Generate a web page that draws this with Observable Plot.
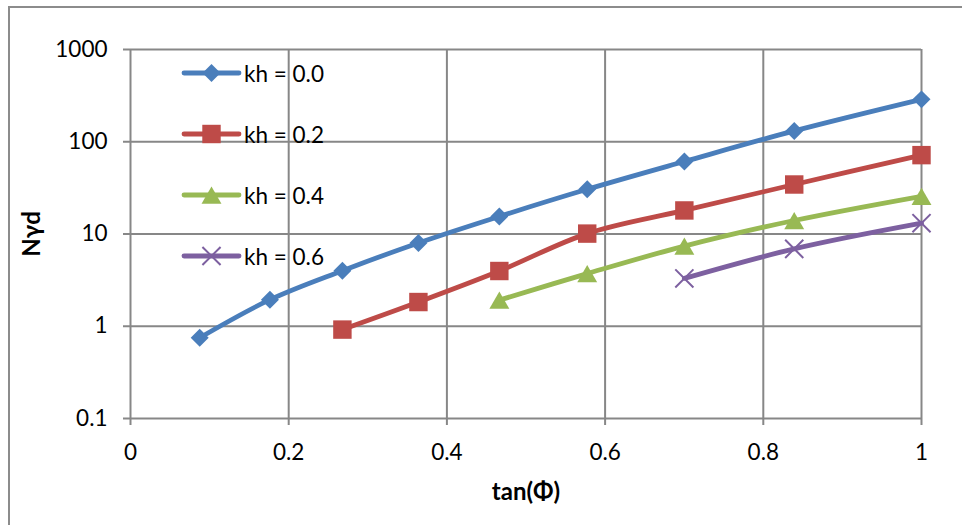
<!DOCTYPE html>
<html>
<head>
<meta charset="utf-8">
<script src="https://cdn.jsdelivr.net/npm/d3@7"></script>
<script src="https://cdn.jsdelivr.net/npm/@observablehq/plot@0.6"></script>
<style>
  html, body { margin: 0; padding: 0; background: #fff; }
  #wrap { position: relative; width: 962px; height: 525px; overflow: hidden; font-family: Lato, "Noto Sans", sans-serif; }
  #border { position: absolute; left: 8px; top: 6px; width: 1000px; height: 600px; border-left: 2px solid #8c8c8c; border-top: 2px solid #8c8c8c; box-sizing: border-box; }
  #chart { position: absolute; left: 0; top: 0; }
  #legend { position: absolute; left: 181px; top: 58px; }
  .item { display: flex; align-items: center; height: 30px; margin-bottom: 31px; font-size: 22.5px; color: #000; white-space: pre; }
  .item svg { display: block; margin-right: 1px; }
</style>
</head>
<body>
<div id="wrap">
  <div id="border"></div>
  <div id="chart"></div>
  <div id="legend"></div>
</div>
<script>
// tan(phi) for phi = 5..45 degrees
const tanPhi = [0.0875, 0.1763, 0.2679, 0.3640, 0.4663, 0.5774, 0.7002, 0.8391, 1.0];
const seriesNames = ["kh = 0.0", "kh = 0.2", "kh = 0.4", "kh = 0.6"];
const nyd_kh00 = [0.75, 1.94, 4.0, 8.0, 15.5, 30.5, 61, 131, 288];
const nyd_kh02 = [null, null, 0.92, 1.83, 3.97, 10.1, 18.0, 34.4, 71.6];
const nyd_kh04 = [null, null, null, null, 1.92, 3.72, 7.39, 14.0, 25.6];
const nyd_kh06 = [null, null, null, null, null, null, 3.3, 6.9, 13.1];
const xTicks = [0, 0.2, 0.4, 0.6, 0.8, 1];
const yTicks = [0.1, 1, 10, 100, 1000];
const xLabel = "tan(Φ)";
const yLabel = "Nγd";

const colors = ["#4a7ebb", "#be4b48", "#98b954", "#7d60a0"];
const symbols = ["diamond2", "square", "triangle", "times"];
const d3symbols = [d3.symbolDiamond2, d3.symbolSquare, d3.symbolTriangle, d3.symbolTimes];
const radii = [8.1, 10.4, 7.4, 8.3];
const allSeries = [nyd_kh00, nyd_kh02, nyd_kh04, nyd_kh06];

const rows = [];
allSeries.forEach((vals, i) => {
  vals.forEach((v, j) => {
    if (v != null) rows.push({x: tanPhi[j], y: v, series: seriesNames[i], idx: i});
  });
});

const gridStyle = {stroke: "#878787", strokeOpacity: 1, strokeWidth: 2};
const lineWidth = 4.8;
const tickFont = 22.5;
const titleFont = 24;

const marks = [
  Plot.gridX(xTicks, gridStyle),
  Plot.gridY(yTicks, gridStyle),
  Plot.axisX(xTicks, {tickSize: 7, tickPadding: 19, stroke: "#878787", strokeWidth: 2, fill: "#000", fontSize: tickFont, tickFormat: d => String(d), label: null}),
  Plot.axisY(yTicks, {tickSize: 7, tickPadding: 16, stroke: "#878787", strokeWidth: 2, fill: "#000", fontSize: tickFont, tickFormat: d => String(d), label: null}),
];
seriesNames.forEach((name, i) => {
  const data = rows.filter(r => r.idx === i);
  marks.push(Plot.line(data, {x: "x", y: "y", stroke: colors[i], strokeWidth: lineWidth, curve: "catmull-rom", strokeLinejoin: "round", strokeLinecap: "round"}));
});
seriesNames.forEach((name, i) => {
  const data = rows.filter(r => r.idx === i);
  const isStroke = symbols[i] === "times";
  marks.push(Plot.dot(data, {
    x: "x", y: "y", symbol: () => symbols[i], r: radii[i],
    fill: isStroke ? "none" : colors[i],
    stroke: isStroke ? colors[i] : "none",
    strokeWidth: isStroke ? 2 : 0,
    dy: symbols[i] === "triangle" ? 2.9 : 0
  }));
});
marks.push(Plot.text([yLabel], {frameAnchor: "left", dx: -98, rotate: -90, textAnchor: "middle", lineAnchor: "middle", fontWeight: "bold", fontSize: titleFont, fill: "#000"}));
marks.push(Plot.text([xLabel], {frameAnchor: "bottom", dy: 74, textAnchor: "middle", lineAnchor: "middle", fontWeight: "bold", fontSize: titleFont, fill: "#000"}));

const chart = Plot.plot({
  width: 962, height: 525,
  marginLeft: 130, marginRight: 41, marginTop: 49, marginBottom: 107,
  style: {fontFamily: "Lato, 'Noto Sans', sans-serif", fontSize: "22.5px", color: "#000", background: "transparent", overflow: "visible"},
  x: {domain: [0, 1]},
  y: {type: "log", domain: [0.1, 1000]},
  marks
});
document.getElementById("chart").appendChild(chart);

// Legend
const legend = d3.select("#legend");
seriesNames.forEach((name, i) => {
  const item = legend.append("div").attr("class", "item");
  const svg = item.append("svg").attr("width", 62).attr("height", 30);
  svg.append("line").attr("x1", 3).attr("x2", 58).attr("y1", 15).attr("y2", 15)
    .attr("stroke", colors[i]).attr("stroke-width", lineWidth).attr("stroke-linecap", "round");
  const sym = d3.symbol(d3symbols[i], Math.PI * radii[i] * radii[i]);
  const p = svg.append("path").attr("d", sym())
    .attr("transform", `translate(30.5,${15 + (symbols[i] === "triangle" ? 2.9 : 0)})`);
  if (symbols[i] === "times") p.attr("fill", "none").attr("stroke", colors[i]).attr("stroke-width", 2);
  else p.attr("fill", colors[i]);
  item.append("span").text(name);
});
</script>
</body>
</html>
